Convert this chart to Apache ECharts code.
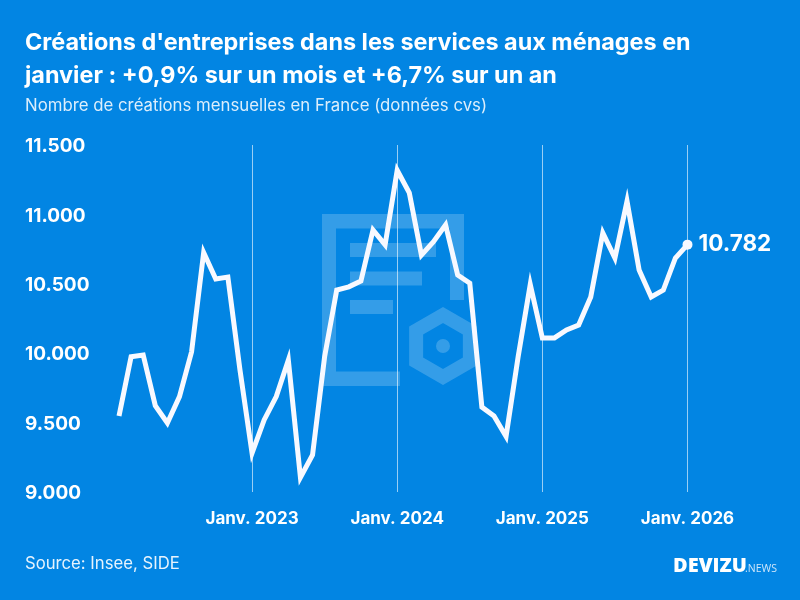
<!DOCTYPE html>
<html><head><meta charset="utf-8">
<style>html,body{margin:0;padding:0;background:#0285e3}#c{width:800px;height:600px}</style>
<script src="https://cdn.jsdelivr.net/npm/echarts@6/dist/echarts.min.js"></script>
</head><body><div id="c"></div>
<script>
const titleLines = ["Créations d'entreprises dans les services aux ménages en", "janvier : +0,9% sur un mois et +6,7% sur un an"];
const subtitle = "Nombre de créations mensuelles en France (données cvs)";
const source = "Source: Insee, SIDE";
const monthNames = ["Févr.","Mars","Avr.","Mai","Juin","Juil.","Août","Sept.","Oct.","Nov.","Déc.","Janv."];
const startYear = 2022;
const values = [9548,9975,9987,9622,9497,9687,10010,10725,10535,10548,9880,
 9280,9519,9687,9950,9105,9267,9975,10455,10478,10520,10888,10780,
 11318,11155,10707,10803,10925,10563,10504,9612,9548,9400,9975,10495,
 10110,10110,10167,10203,10405,10866,10686,11095,10600,10405,10455,10686,
 10782];
const categories = values.map((_, i) => {
  const y = startYear + Math.floor((i + 1) / 12);
  return monthNames[i % 12] + " " + y;
});
const fmt = v => String(v).replace(/\B(?=(\d{3})+$)/g, ".");
const isJan = (i) => categories[i].startsWith("Janv.");
const FONT = "Inter";
const wm = "rgba(255,255,255,0.2)";
const hex = (cx, cy, r) => { const p=[]; for (let k=0;k<6;k++){const a=Math.PI/3*k-Math.PI/2;p.push([cx+r*Math.cos(a),cy+r*Math.sin(a)]);} return p; };
const chart = echarts.init(document.getElementById('c'), null, {renderer:'canvas'});
chart.setOption({
  backgroundColor:'#0285e3',
  animation:false,
  textStyle:{fontFamily:FONT},
  grid:{left:119,right:112.5,top:145,bottom:108,containLabel:false},
  xAxis:{type:'category',data:categories,boundaryGap:false,
    axisLine:{show:false},axisTick:{show:false},
    axisLabel:{interval:(i)=>isJan(i),color:'#fff',fontFamily:FONT,fontWeight:700,fontSize:17,margin:18,
      formatter:v=>v,hideOverlap:false},
    splitLine:{show:true,interval:(i)=>isJan(i),lineStyle:{color:'rgba(255,255,255,0.6)',width:1}}},
  yAxis:{type:'value',min:9000,max:11500,interval:500,
    axisLine:{show:false},axisTick:{show:false},splitLine:{show:false},
    axisLabel:{color:'#fff',fontFamily:FONT,fontWeight:700,fontSize:19,align:'left',margin:94,verticalAlign:'top',lineHeight:3,formatter:fmt}},
  series:[{type:'line',z:5,showSymbol:true,symbol:'none',
    lineStyle:{color:'#f8f9ff',width:5,join:'miter',miterLimit:10,cap:'butt'},
    data:values.map((v,i)=> i===values.length-1
      ? {value:v,symbol:'circle',symbolSize:10,itemStyle:{color:'#f8f9ff'},
         label:{show:true,position:'right',distance:6,formatter:p=>fmt(p.value),color:'#fff',fontFamily:FONT,fontWeight:700,fontSize:22.5}}
      : v)}],
  graphic:[
    {type:'group',z:0,silent:true,children:[
      {type:'polygon',shape:{points:[[322,214],[464,214],[464,300],[450,300],[450,228.5],[336,228.5],[336,371.5],[400,371.5],[400,386],[322,386]]},style:{fill:wm}},
      {type:'rect',shape:{x:350,y:243,width:86,height:14},style:{fill:wm}},
      {type:'rect',shape:{x:350,y:271.5,width:72,height:14},style:{fill:wm}},
      {type:'rect',shape:{x:350,y:300,width:43,height:14},style:{fill:wm}},
      {type:'polygon',shape:{points:hex(443,346,31)},style:{fill:'none',stroke:wm,lineWidth:14}},
      {type:'circle',shape:{cx:443,cy:346,r:7},style:{fill:wm}}
    ]},
    {type:'text',x:25,y:31,style:{text:titleLines[0],fill:'#fff',font:"700 23.4px "+FONT}},
    {type:'text',x:25,y:64,style:{text:titleLines[1],fill:'#fff',font:"700 23.4px "+FONT}},
    {type:'text',x:25,y:97,style:{text:subtitle,fill:'#dceefc',font:"400 16.8px "+FONT}},
    {type:'text',x:25,y:555,style:{text:source,fill:'#e6f3fd',font:"400 16.7px "+FONT}},
    {type:'text',x:673,y:556,style:{text:"DEVIZU",fill:'#fff',font:"800 20px 'Open Sans'"}},
    {type:'text',x:745,y:564,style:{text:".NEWS",fill:'#cfe6fa',font:"400 10.5px 'Open Sans'"}}
  ]
});
</script></body></html>
